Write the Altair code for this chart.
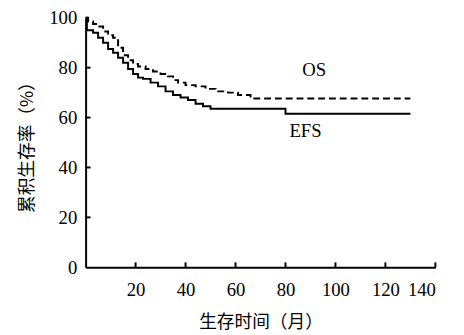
import altair as alt
import pandas as pd

efs_t = [0, 0.5, 3, 5, 7, 9, 11, 13, 15, 17, 19, 21, 23, 26, 29, 32, 35, 38, 41, 44, 47, 50, 80, 130]
efs_v = [100, 95, 94, 92, 90, 87.5, 86, 84, 82, 79.5, 77.5, 76, 75.5, 74, 72.5, 70.5, 69, 68, 67, 65.5, 64.5, 63.5, 61.5, 61.5]
os_t = [0, 1, 3, 5, 7, 9, 11, 13, 15, 17, 19, 21, 24, 27, 30, 33, 35, 37, 40, 44, 48, 52, 57, 61, 66, 130]
os_v = [100, 98.5, 97.5, 96.5, 94.5, 93, 92, 88, 85, 83, 81.5, 80.5, 79.5, 78.5, 77.5, 76.5, 75, 74, 73, 72.5, 71.5, 70.5, 70, 69, 67.6, 67.6]
label_text = ["OS", "EFS"]
label_x = [91.5, 88]
label_y = [79, 54.5]
x_ticks = [20, 40, 60, 80, 100, 120, 140]
y_ticks = [0, 20, 40, 60, 80, 100]

W, H = 356, 254
SERIF = "Liberation Serif"
CJK = "Noto Sans CJK SC"

df = pd.concat([
    pd.DataFrame({"t": efs_t, "v": efs_v, "s": "EFS"}),
    pd.DataFrame({"t": os_t, "v": os_v, "s": "OS"}),
])
lab = pd.DataFrame({"t": label_x, "v": label_y, "text": label_text})
xt = pd.DataFrame({"t": x_ticks})
yt = pd.DataFrame({"v": y_ticks[1:-1]})

xscale = alt.Scale(domain=[0, 140], nice=False, zero=False)
yscale = alt.Scale(domain=[0, 100], nice=False)

lines = alt.Chart(df).mark_line(interpolate="step-after", strokeWidth=2, color="black").encode(
    x=alt.X("t:Q", scale=xscale,
            axis=alt.Axis(values=x_ticks, title="生存时间（月）", grid=False, tickSize=0,
                          labelPadding=14, titlePadding=14,
                          labelFont=SERIF, labelFontSize=19, labelColor="black",
                          titleFont=CJK, titleFontSize=18, titleFontWeight="normal", titleColor="black",
                          domainColor="black", domainWidth=2)),
    y=alt.Y("v:Q", scale=yscale,
            axis=alt.Axis(values=y_ticks, title="累积生存率（%）", grid=False, tickSize=0,
                          labelPadding=9, titlePadding=13,
                          labelFont=SERIF, labelFontSize=19, labelColor="black",
                          titleFont=CJK, titleFontSize=18, titleFontWeight="normal", titleColor="black",
                          domainColor="black", domainWidth=2)),
    strokeDash=alt.StrokeDash("s:N", scale=alt.Scale(domain=["EFS", "OS"], range=[[1, 0], [7, 4]]), legend=None),
    detail="s:N",
)

texts = alt.Chart(lab).mark_text(font=SERIF, fontSize=19, color="black").encode(
    x=alt.X("t:Q", scale=xscale), y=alt.Y("v:Q", scale=yscale), text="text:N"
)

xticks = alt.Chart(xt).mark_rule(color="black", strokeWidth=2).encode(
    x=alt.X("t:Q", scale=xscale), y=alt.value(H), y2=alt.value(H - 5)
)
yticks = alt.Chart(yt).mark_rule(color="black", strokeWidth=2).encode(
    y=alt.Y("v:Q", scale=yscale), x=alt.value(0), x2=alt.value(5)
)

chart = alt.layer(lines, xticks, yticks, texts).properties(
    width=W, height=H,
    autosize=alt.AutoSizeParams(type="none"),
    padding={"left": 79, "top": 7, "right": 21, "bottom": 66},
).configure_view(stroke=None)

chart.save("out.html", embed_options={"renderer": "svg", "actions": False})
